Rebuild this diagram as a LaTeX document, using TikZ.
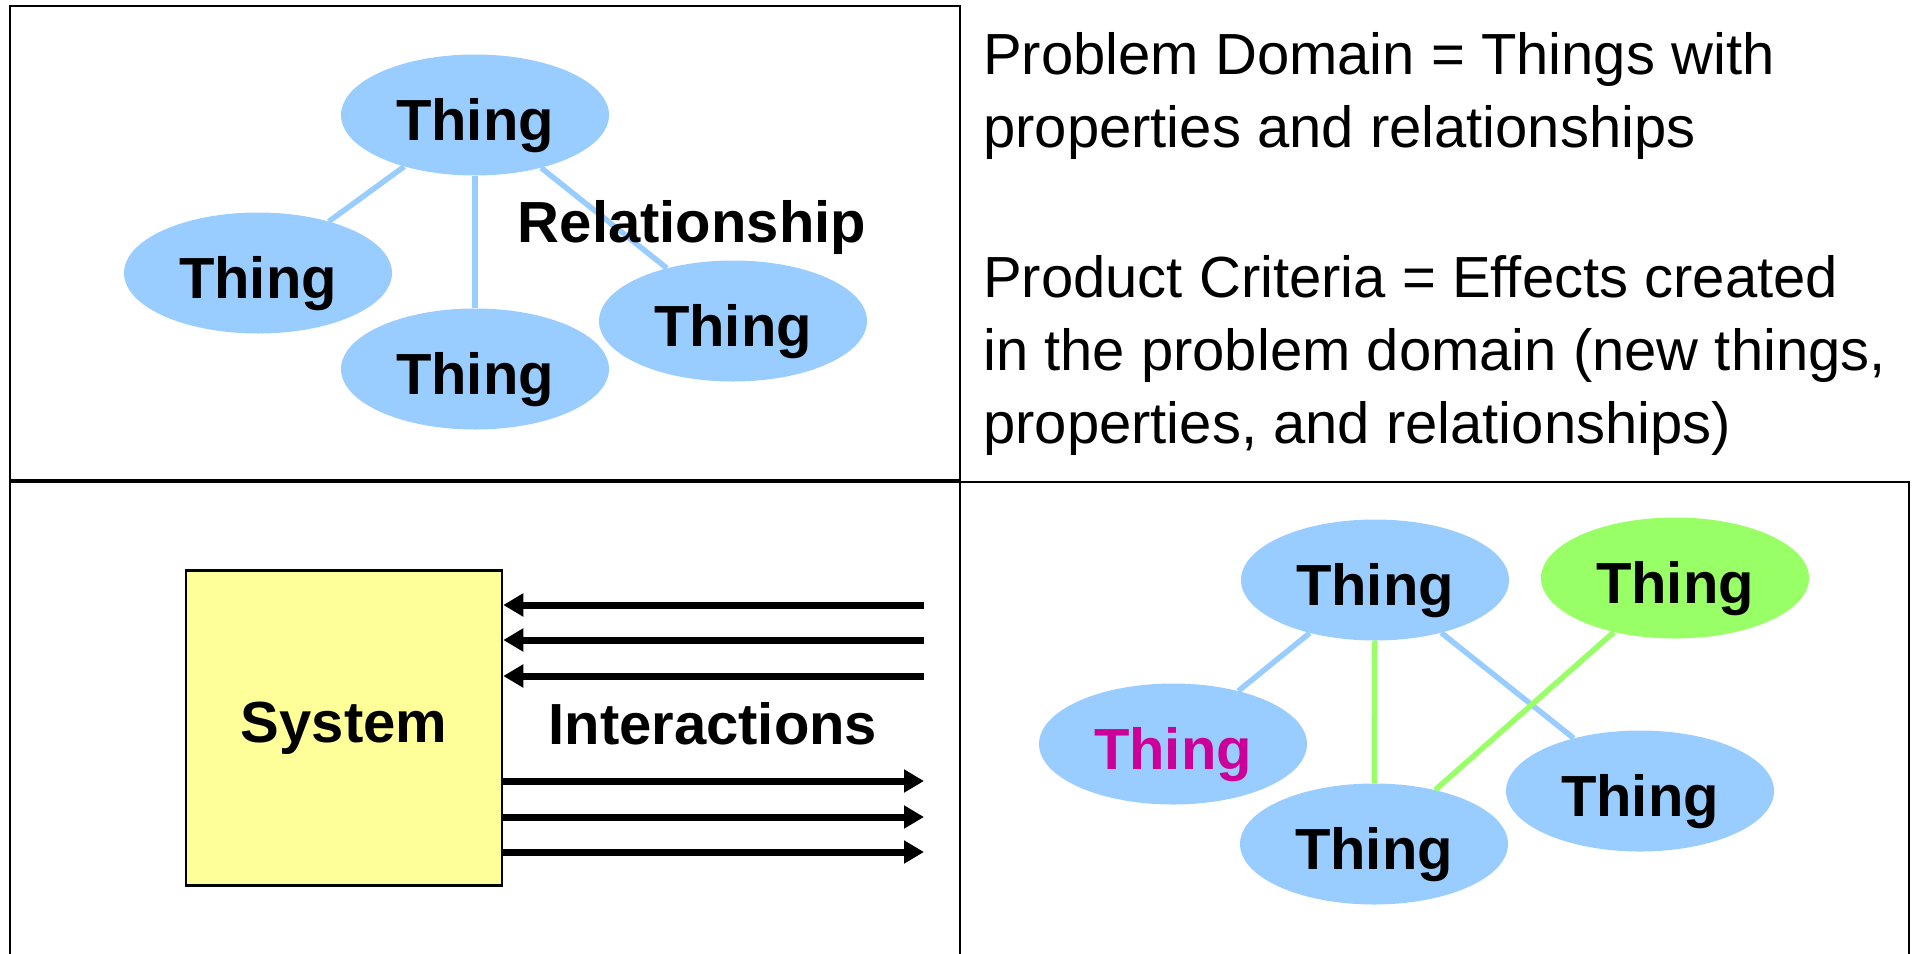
\documentclass[tikz,border=0pt]{standalone}
\usepackage{fontspec}
\setmainfont{Liberation Sans}
\usepackage{tikz}
\usetikzlibrary{shapes,arrows.meta,positioning,shapes.geometric}

\definecolor{thingblue}{RGB}{153,204,255}
\definecolor{thinggreen}{RGB}{153,255,102}
\definecolor{thingpink}{RGB}{204,0,153}
\definecolor{sysyellow}{RGB}{255,255,153}

\begin{document}
\begin{tikzpicture}[x=1pt, y=-1pt, node distance=45pt]
    % Define styles
    \tikzstyle{bigtext} = [font=\fontsize{58}{67}\selectfont\bfseries, inner sep=0pt]
    \tikzstyle{thing} = [ellipse, fill=thingblue, bigtext, minimum width=268pt, minimum height=121pt, text height=50pt, text depth=0pt]
    \tikzstyle{newthing} = [thing, fill=thinggreen]
    \tikzstyle{rel} = [thingblue, line width=5.5pt]
    \tikzstyle{newrel} = [thinggreen, line width=5.5pt]
    \tikzstyle{desc} = [font=\fontsize{58}{73}\selectfont, align=left, inner sep=0pt, anchor=north west]
    \tikzstyle{panel} = [draw, line width=2pt]
    \tikzstyle{arrow} = [-{Triangle[length=20pt, width=22pt]}, line width=7pt]

    \clip (0,0) rectangle (1913,953);

    % Draw the panels
    \draw[panel] (10,6) rectangle (960,480);
    \draw[panel] (10,482) rectangle (960,990);
    \draw[panel] (960,482) rectangle (1909,990);

    % Problem domain: things and relationships
    \node[thing] (t1) at (475,115) {Thing};
    \node[thing] (t2) at (258,273) {Thing};
    \node[thing] (t3) at (475,369) {Thing};
    \node[thing] (t4) at (733,321) {Thing};
    \draw[rel] (t1) -- (t2);
    \draw[rel] (t1) -- (t3);
    \draw[rel] (t1) -- (t4);
    \node[bigtext, anchor=base] (relname) at (692,242) {Relationship};

    % Definitions
    \node[desc] (pd) at (983,32) {Problem Domain = Things with\\properties and relationships};
    \node[desc] (pc) at (983,255) {Product Criteria = Effects created\\in the problem domain (new things,\\properties, and relationships)};

    % System and its interactions
    \node[draw, fill=sysyellow, line width=2.5pt, minimum width=316pt, minimum height=315pt, bigtext] (sys) at (344,728) {System};
    \node[bigtext, right=45pt of sys, yshift=4pt] (inter) {Interactions};

    \coordinate (in1) at (924,605);
    \coordinate (in2) at (924,640);
    \coordinate (in3) at (924,676);
    \coordinate (out1) at (924,781);
    \coordinate (out2) at (924,817);
    \coordinate (out3) at (924,852);
    \draw[arrow] (in1) -- (in1 -| sys.east);
    \draw[arrow] (in2) -- (in2 -| sys.east);
    \draw[arrow] (in3) -- (in3 -| sys.east);
    \draw[arrow] (out1 -| sys.east) -- (out1);
    \draw[arrow] (out2 -| sys.east) -- (out2);
    \draw[arrow] (out3 -| sys.east) -- (out3);

    % Product criteria: new things and relationships
    \node[thing] (n1) at (1375,580) {Thing};
    \node[newthing] (n2) at (1675,578) {Thing};
    \node[thing, text=thingpink] (n3) at (1173,744) {Thing};
    \node[thing] (n4) at (1374,844) {Thing};
    \node[thing] (n5) at (1640,791) {Thing};
    \draw[rel] (n1) -- (n3);
    \draw[rel] (n1) -- (n5);
    \draw[newrel] (n1) -- (n4);
    \draw[newrel] (n2) -- (n4);
\end{tikzpicture}
\end{document}
